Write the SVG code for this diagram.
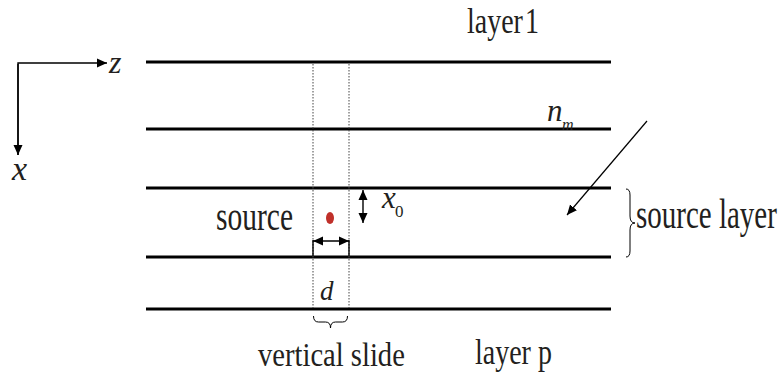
<svg xmlns="http://www.w3.org/2000/svg" width="782" height="374" viewBox="0 0 782 374">
<style>
.layer{stroke:#000;stroke-width:3.2;fill:none}
.dot{stroke:#444;stroke-width:1;stroke-dasharray:1.5 1.5;fill:none}
.thin{stroke:#000;stroke-width:1.4;fill:none}
.t{font-family:"Liberation Serif","Times New Roman",serif;fill:#231f20}
.i{font-style:italic}
</style>
<defs>
<marker id="ah" markerWidth="10" markerHeight="10" refX="10" refY="5" orient="auto-start-reverse" markerUnits="userSpaceOnUse">
<path d="M0,0.5 L10,5 L0,9.5 Z" fill="#000"/>
</marker>
</defs>
<g id="layers">
<line class="layer" x1="146" y1="62" x2="611" y2="62"/>
<line class="layer" x1="146" y1="129" x2="611" y2="129"/>
<line class="layer" x1="146" y1="188" x2="611" y2="188"/>
<line class="layer" x1="146" y1="257" x2="611" y2="257"/>
<line class="layer" x1="146" y1="309" x2="611" y2="309"/>
</g>
<g id="slide">
<line class="dot" x1="313" y1="64" x2="313" y2="308"/>
<line class="dot" x1="349" y1="64" x2="349" y2="308"/>
<path class="thin" d="M313,240 V256 M349,240 V256"/>
<path d="M313.5,316 q0,6 5,6 h7 q5,0 5,6 q0,-6 5,-6 h7 q5,0 5,-6" fill="none" stroke="#000" stroke-width="1"/>
</g>
<g id="axes">
<path class="thin" d="M18,155 V63 H107" marker-end="url(#ah)"/>
<line class="thin" x1="18" y1="64" x2="18" y2="155" marker-end="url(#ah)"/>
<text class="t i" font-size="32" x="109" y="73">z</text>
<text class="t i" font-size="34" x="12" y="180">x</text>
</g>
<g id="source">
<ellipse cx="330" cy="218" rx="4" ry="6" fill="#c0302a"/>
<text class="t" font-size="29.5" transform="translate(216,230) scale(1,1.42)">source</text>
</g>
<g id="connectors">
<line class="thin" x1="313" y1="241" x2="349" y2="241" marker-start="url(#ah)" marker-end="url(#ah)"/>
<line class="thin" x1="363" y1="190" x2="363" y2="223" marker-start="url(#ah)" marker-end="url(#ah)"/>
<line stroke="#000" stroke-width="1.2" x1="647" y1="121" x2="567" y2="215" marker-end="url(#ah)"/>
<path d="M626,189 q4,0 4,6 v21 q0,7 5,7 q-5,0 -5,7 v21 q0,6 -4,6" fill="none" stroke="#000" stroke-width="1"/>
</g>
<g id="labels">
<text class="t" font-size="28" word-spacing="-5" transform="translate(467,33) scale(1,1.29)">layer 1</text>
<text class="t i" font-size="31" x="547" y="121">n</text>
<text class="t i" font-size="16" x="562" y="130">m</text>
<text class="t i" font-size="31" x="382" y="208">x</text>
<text class="t" font-size="17" x="395" y="217">0</text>
<text class="t" font-size="29" transform="translate(636,228) scale(1,1.45)">source layer</text>
<text class="t i" font-size="27" x="320" y="300">d</text>
<text class="t" font-size="28.6" transform="translate(258,366) scale(1,1.2)">vertical slide</text>
<text class="t" font-size="28" transform="translate(475,364) scale(1,1.29)">layer p</text>
</g>
</svg>
